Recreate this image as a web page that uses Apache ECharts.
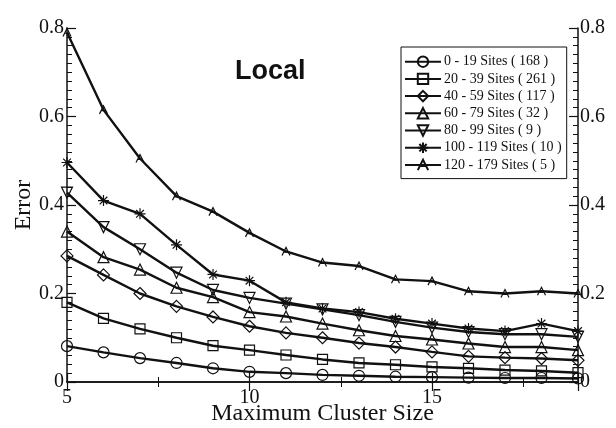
<!DOCTYPE html>
<html>
<head>
<meta charset="utf-8">
<script src="https://cdn.jsdelivr.net/npm/echarts@6/dist/echarts.min.js"></script>
<style>
  html, body { margin: 0; padding: 0; background: #fff; }
  #chart { width: 616px; height: 428px; }
</style>
</head>
<body>
<div id="chart"></div>
<script>
// Maximum cluster size (x values)
const clusterSizes = [5, 6, 7, 8, 9, 10, 11, 12, 13, 14, 15, 16, 17, 18, 19];

// Error per site-count group
const err0to19    = [0.081, 0.067, 0.054, 0.043, 0.031, 0.023, 0.020, 0.016, 0.014, 0.012, 0.011, 0.010, 0.009, 0.009, 0.008];
const err20to39   = [0.180, 0.144, 0.120, 0.100, 0.082, 0.072, 0.061, 0.051, 0.043, 0.039, 0.034, 0.031, 0.027, 0.025, 0.021];
const err40to59   = [0.285, 0.242, 0.200, 0.171, 0.147, 0.126, 0.111, 0.100, 0.088, 0.079, 0.068, 0.058, 0.055, 0.053, 0.049];
const err60to79   = [0.340, 0.282, 0.254, 0.213, 0.192, 0.158, 0.148, 0.132, 0.117, 0.104, 0.096, 0.087, 0.079, 0.079, 0.072];
const err80to99   = [0.428, 0.350, 0.300, 0.247, 0.208, 0.190, 0.177, 0.164, 0.151, 0.136, 0.123, 0.113, 0.108, 0.108, 0.102];
const err100to119 = [0.496, 0.410, 0.380, 0.310, 0.243, 0.229, 0.180, 0.166, 0.158, 0.143, 0.132, 0.121, 0.115, 0.132, 0.115];
const err120to179 = [0.790, 0.615, 0.505, 0.420, 0.385, 0.337, 0.295, 0.270, 0.262, 0.232, 0.228, 0.205, 0.200, 0.205, 0.200];

const groupNames = [
  '0 - 19 Sites ( 168 )',
  '20 - 39 Sites ( 261 )',
  '40 - 59 Sites ( 117 )',
  '60 - 79 Sites ( 32 )',
  '80 - 99 Sites ( 9 )',
  '100 - 119 Sites ( 10 )',
  '120 - 179 Sites ( 5 )'
];
const groupValues = [err0to19, err20to39, err40to59, err60to79, err80to99, err100to119, err120to179];

// Hollow / stroked marker shapes for each group
const groupSymbols = [
  'circle',
  'rect',
  'diamond',
  'triangle',
  'path://M0,0 L10,0 L5,9 Z',
  'path://M5,0 L5,10 M0,5 L10,5 M1.5,1.5 L8.5,8.5 M8.5,1.5 L1.5,8.5',
  'path://M0,10 L5,0 L10,10 M2.5,6 L7.5,6'
];
const groupSymbolSizes = [11, 10, 12, 11, 11, 11, 8];

const ink = '#111';
const serif = '"Liberation Serif", "DejaVu Serif", serif';

const series = groupNames.map((name, i) => ({
  name: name,
  type: 'line',
  xAxisIndex: 0,
  yAxisIndex: 0,
  data: clusterSizes.map((x, j) => [x, groupValues[i][j]]),
  symbol: groupSymbols[i],
  symbolSize: groupSymbolSizes[i],
  showAllSymbol: true,
  color: ink,
  lineStyle: { color: ink, width: 2.4 },
  itemStyle: { color: 'none', borderColor: ink, borderWidth: 1.2 },
  emphasis: { disabled: true },
  z: 10 - i
}));

const xCommon = {
  type: 'value', min: 5, max: 19, interval: 5,
  axisLine: { lineStyle: { color: ink, width: 1.5 } },
  axisTick: { inside: true, length: 9, lineStyle: { color: ink, width: 1.2 } },
  minorTick: { show: true, splitNumber: 2, length: 5, lineStyle: { color: ink, width: 1 } },
  splitLine: { show: false }
};
const yCommon = {
  type: 'value', min: 0, max: 0.8, interval: 0.2,
  axisLine: { show: true, lineStyle: { color: ink, width: 1.5 } },
  axisTick: { show: true, inside: true, length: 9, lineStyle: { color: ink, width: 1.2 } },
  minorTick: { show: true, splitNumber: 10, length: 5, lineStyle: { color: ink, width: 1 } },
  splitLine: { show: false }
};

const chart = echarts.init(document.getElementById('chart'), null, { renderer: 'canvas' });
chart.setOption({
  animation: false,
  backgroundColor: '#fff',
  title: {
    text: 'Local', left: 235, top: 58, padding: 0,
    textStyle: { fontFamily: '"Liberation Sans", Arial, sans-serif', fontWeight: 'bold', fontSize: 27, color: ink }
  },
  grid: { left: 67, right: 38, top: 28, bottom: 46, containLabel: false, outerBoundsMode: 'none' },
  legend: {
    orient: 'vertical', left: 401, top: 47,
    padding: [7, 5, 6, 3],
    itemWidth: 36, itemHeight: 13, itemGap: 1.8,
    borderColor: ink, borderWidth: 1,
    backgroundColor: '#fff',
    selectedMode: false,
    textStyle: { fontFamily: serif, fontSize: 14, color: ink, padding: [0, 0, 0, -2] },
    data: groupNames
  },
  xAxis: [
    Object.assign({}, xCommon, {
      position: 'bottom',
      axisLabel: { fontFamily: serif, fontSize: 20, color: ink, margin: 6, showMaxLabel: false },
      name: 'Maximum Cluster Size', nameLocation: 'middle', nameGap: 20, nameMoveOverlap: false,
      nameTextStyle: { fontFamily: serif, fontSize: 24, color: ink }
    }),
    Object.assign({}, xCommon, { position: 'top', axisLabel: { show: false } })
  ],
  yAxis: [
    Object.assign({}, yCommon, {
      position: 'left',
      axisLabel: { fontFamily: serif, fontSize: 20, color: ink, margin: 3 },
      name: 'Error', nameLocation: 'middle', nameGap: 31, nameMoveOverlap: false,
      nameTextStyle: { fontFamily: serif, fontSize: 24, color: ink }
    }),
    Object.assign({}, yCommon, {
      position: 'right',
      axisLabel: { fontFamily: serif, fontSize: 20, color: ink, margin: 2 }
    })
  ],
  series: series
});
</script>
</body>
</html>
